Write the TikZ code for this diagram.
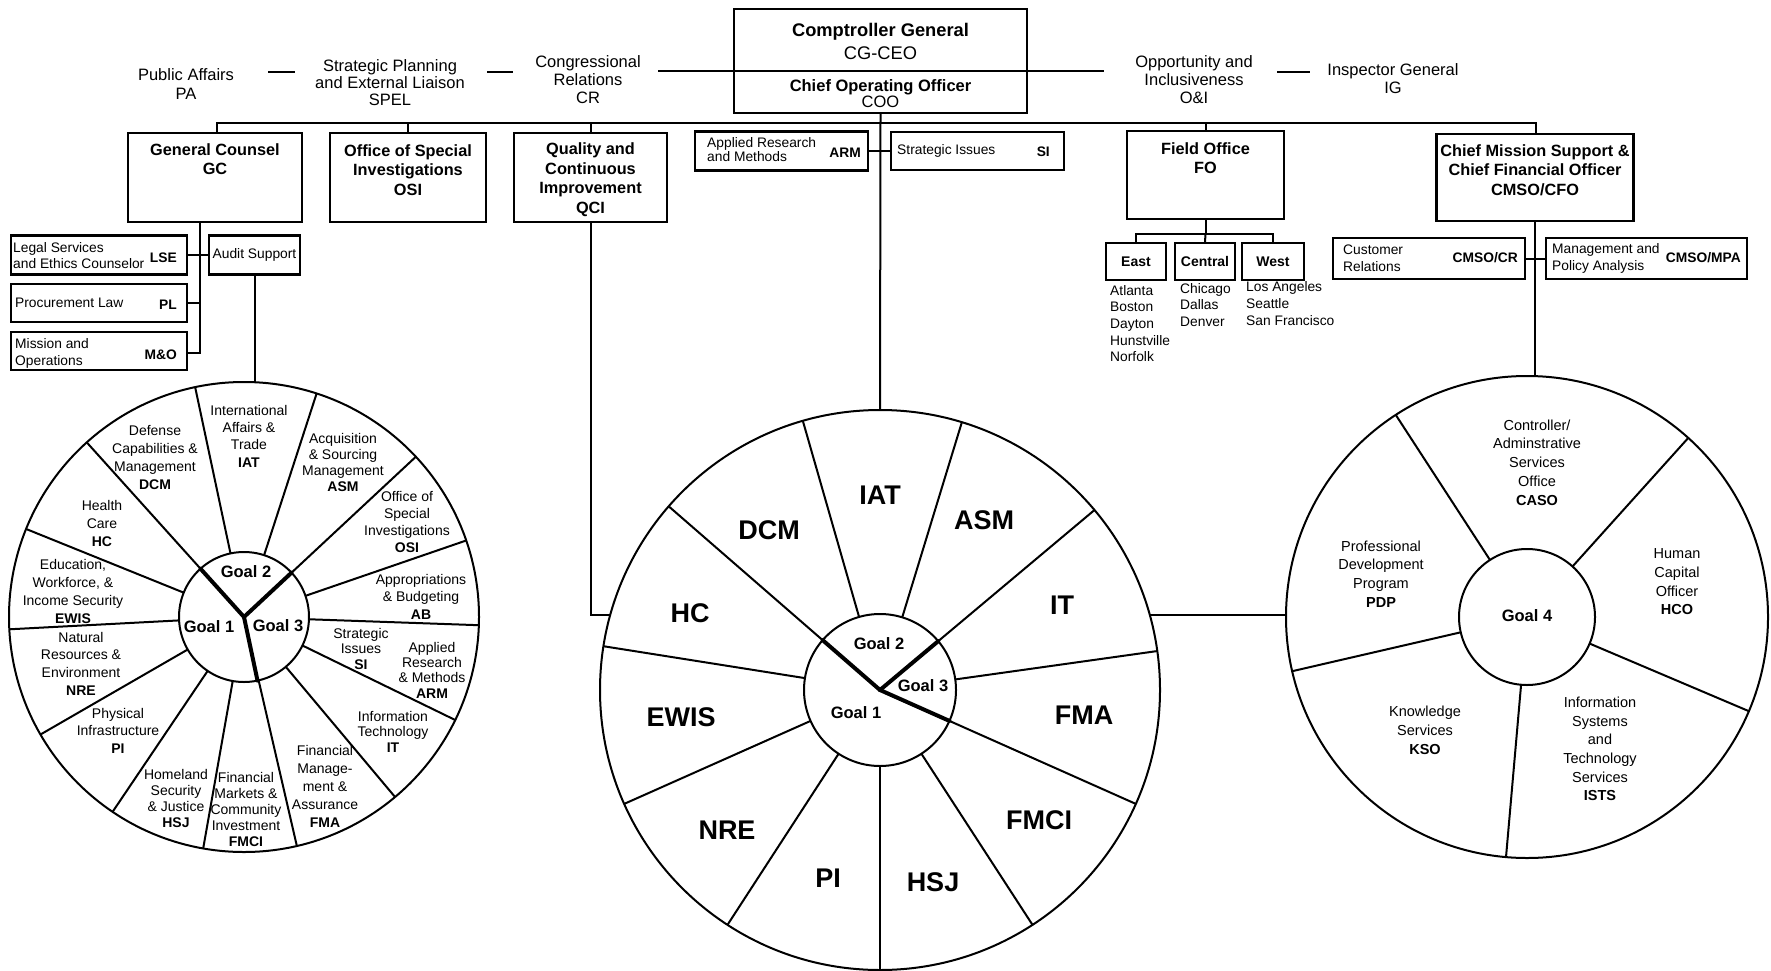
\documentclass[tikz,border=0pt]{standalone}
\usepackage{fontspec}
\setmainfont{Liberation Sans}
\usetikzlibrary{calc}
\begin{document}
\begin{tikzpicture}[x=1pt,y=-1pt,
  ln/.style={line width=2pt},
  goalline/.style={line width=4pt, line cap=round},
  box/.style={draw, line width=2.2pt, inner sep=0pt},
  wheel/.style={circle, draw, line width=2pt, inner sep=0pt, outer sep=0pt},
  toptxt/.style={align=center, inner sep=0pt, font={\fontsize{16.5}{#1}\selectfont}},
  toptxt/.default=18,
  ttl/.style={align=center, inner sep=0pt, font={\bfseries\fontsize{16.3}{19.5}\selectfont}},
  smt/.style={align=left, inner sep=0pt, font={\fontsize{13.8}{#1}\selectfont}},
  smt/.default=15.5,
  smb/.style={inner sep=0pt, font={\bfseries\fontsize{13.8}{15.5}\selectfont}},
  wl/.style={align=center, inner sep=0pt, font={\fontsize{14}{#1}\selectfont}},
  wl/.default=16.5,
  wr/.style={align=center, inner sep=0pt, font={\fontsize{14.5}{18.7}\selectfont}},
  big/.style={inner sep=0pt, font={\bfseries\fontsize{27}{30}\selectfont}},
  goal/.style={inner sep=0pt, font={\bfseries\fontsize{16.5}{18}\selectfont}},
]
\fill[white] (0,0) rectangle (1771,971);
\useasboundingbox (0,0) rectangle (1771,971);

% ---------- top row ----------
\node[toptxt=19] (pa) at (186,84) {Public Affairs\\PA};
\node[toptxt=17] (spel) at (390,83) {Strategic Planning\\and External Liaison\\SPEL};
\node[toptxt] (cr) at (588,80) {Congressional\\Relations\\CR};
\node[toptxt] (oi) at (1194,80) {Opportunity and\\Inclusiveness\\O\&I};
\node[toptxt] (ig) at (1393,79) {Inspector General\\IG};

\coordinate (d1a) at (268,72); \coordinate (d1b) at (295,72);
\coordinate (d2a) at (487,72); \coordinate (d2b) at (513,72);
\coordinate (d3a) at (1277,72); \coordinate (d3b) at (1310,72);
\coordinate (hl) at (658,71); \coordinate (hr) at (1104,71);

\node[box, minimum width=293, minimum height=104] (cg) at (880.5,61) {};
\draw[ln] (d1a) -- (d1b);
\draw[ln] (d2a) -- (d2b);
\draw[ln] (d3a) -- (d3b);
\draw[ln] (hl) -- (hr);
\node[align=center, inner sep=0pt, font={\fontsize{18.3}{23}\selectfont}] (cgt) at (880.5,41.5) {\textbf{Comptroller General}\\CG-CEO};
\node[align=center, inner sep=0pt, font={\fontsize{16.5}{16}\selectfont}] (coot) at (880.5,94) {\textbf{Chief Operating Officer}\\COO};

% ---------- second row boxes ----------
\node[box, minimum width=174, minimum height=89] (gc) at (215,177.5) {};
\node[ttl] (gct) at (215,159) {General Counsel\\GC};
\node[box, minimum width=156, minimum height=89] (osi) at (408,177.5) {};
\node[ttl] (osit) at (408,170) {Office of Special\\Investigations\\OSI};
\node[box, minimum width=153, minimum height=89] (qci) at (590.5,177.5) {};
\node[ttl] (qcit) at (590.5,179.5) {Quality and\\Continuous\\Improvement\\QCI};
\node[box, minimum width=173, minimum height=39] (arm) at (781.5,151) {};
\node[smt=14, anchor=west] (armt) at (707,150) {Applied Research\\and Methods};
\node[smb, anchor=east] (armab) at (861,153) {ARM};
\node[box, minimum width=173, minimum height=38] (si) at (977.5,151) {};
\node[smt, anchor=west] (sit) at (897,151) {Strategic Issues};
\node[smb, anchor=east] (siab) at (1050,152) {SI};
\node[box, minimum width=157, minimum height=88] (fo) at (1205.5,175) {};
\node[ttl] (fot) at (1205.5,158) {Field Office\\FO};
\node[box, minimum width=197, minimum height=87] (cmso) at (1535,177.5) {};
\node[ttl] (cmsot) at (1535,170) {Chief Mission Support \&\\Chief Financial Officer\\CMSO/CFO};

% branch line
\draw[ln] ([xshift=2pt]gc.north) |- (cg.south |- 0,123) -| ([xshift=1pt]cmso.north);
\draw[ln] (osi.north) -- (osi.north |- 0,123);
\draw[ln] (qci.north) -- (qci.north |- 0,123);
\draw[ln] (fo.north) -- (fo.north |- 0,123);
\draw[ln] (arm.east) -- (si.west);

% ---------- General Counsel group ----------
\node[box, minimum width=176, minimum height=39] (lse) at (99,255) {};
\node[smt=16, anchor=west] (lset) at (13,256) {Legal Services\\and Ethics Counselor};
\node[smb, anchor=east] (lseab) at (177,258) {LSE};
\node[box, minimum width=176, minimum height=38] (pl) at (99,303) {};
\node[smt, anchor=west] (plt) at (15,303) {Procurement Law};
\node[smb, anchor=east] (plab) at (177,305) {PL};
\node[box, minimum width=176, minimum height=38] (mo) at (99,351) {};
\node[smt=17, anchor=west] (mot) at (15,353.5) {Mission and\\Operations};
\node[smb, anchor=east] (moab) at (177,355) {M\&O};
\node[box, minimum width=91, minimum height=39, font={\fontsize{13.8}{15.5}\selectfont}] (aud) at (254.5,255) {Audit Support};
\draw[ln] ([xshift=-15pt]gc.south) coordinate (gcv) |- ([yshift=-2pt]mo.east);
\draw[ln] (pl.east) -- (pl.east -| gcv);
\draw[ln] (lse.east) -- (aud.west);

% ---------- Field Office group ----------
\node[box, minimum width=60, minimum height=37, font={\bfseries\fontsize{14}{16}\selectfont}] (feast) at (1136,261.5) {East};
\node[box, minimum width=60, minimum height=37, font={\bfseries\fontsize{14}{16}\selectfont}] (fcen) at (1205,261.5) {Central};
\node[box, minimum width=62, minimum height=37, font={\bfseries\fontsize{14}{16}\selectfont}] (fwest) at (1273,261.5) {West};
\draw[ln] (fo.south) -- ++(0,14) coordinate (foj);
\draw[ln] (feast.north) |- (foj) -| (fwest.north);
\draw[ln] (foj) -- (fcen.north);
\node[smt=16.7, anchor=west] (ceast) at (1110,323.5) {Atlanta\\Boston\\Dayton\\Hunstville\\Norfolk};
\node[smt=16.7, anchor=west] (ccen) at (1180,305) {Chicago\\Dallas\\Denver};
\node[smt=16.7, anchor=west] (cwest) at (1246,303.5) {Los Angeles\\Seattle\\San Francisco};

% ---------- CMSO group ----------
\node[box, minimum width=192, minimum height=41] (ccr) at (1429,258.5) {};
\node[smt=17, anchor=west] (ccrt) at (1343,258.5) {Customer\\Relations};
\node[smb, anchor=east] (ccrab) at (1518,258) {CMSO/CR};
\node[box, minimum width=201, minimum height=41] (mpa) at (1646.5,258.5) {};
\node[smt=17, anchor=west] (mpat) at (1552,258.5) {Management and\\Policy Analysis};
\node[smb, anchor=east] (mpaab) at (1741,258) {CMSO/MPA};
\draw[ln] (ccr.east) -- (mpa.west);

% ---------- wheels ----------
\node[wheel, minimum size=470pt] (lw) at (244,617) {};
\node[wheel, minimum size=130pt] (lwi) at (244,617) {};
\foreach \a in {102.8,72.8,43.7,19.1,-2.5,-26.3,-50,-77.8,-100.8,-124.7,-150.8,183,158.8,132.7}
  \draw[ln] (lwi.\a) -- (lw.\a);
\foreach \a in {132.7,43.7,-78}
  \draw[goalline] (lw.center) -- (lwi.\a);

\node[wheel, minimum size=560pt] (mw) at (880,690) {};
\node[wheel, minimum size=152pt] (mwi) at (880,690) {};
\foreach \a in {-90,-57.27,-24.55,8.18,40.91,73.64,106.36,139.09,171.82,204.55,237.27}
  \draw[ln] (mwi.\a) -- (mw.\a);
\foreach \a in {139.09,40.91,-24.55}
  \draw[goalline] (mw.center) -- (mwi.\a);

\node[wheel, minimum size=482pt] (rw) at (1527,617) {};
\node[wheel, minimum size=136pt] (rwi) at (1527,617) {};
\foreach \a in {123.5,48.8,-23.4,-95.2,-167.9}
  \draw[ln] (rwi.\a) -- (rw.\a);

% ---------- wheel connectors ----------
\draw[ln] (cg.south) -- (mw.north);
\draw[ln] (aud.south) -- (aud.south |- lw.north);
\coordinate (mwl) at ($(mw.center)+(164.5:280pt)$);
\coordinate (mwr) at ($(mw.center)+(15.5:280pt)$);
\draw[ln] (qci.south) |- (mwl);
\draw[ln] (mwr) -- (mwr -| rw.west);
\draw[ln] (cmso.south) -- (cmso.south |- rw.north);

% ---------- left wheel labels ----------
\node[wl=17.7] (l-dcm) at (155,457.5) {Defense\\Capabilities \&\\Management\\\textbf{DCM}};
\node[wl=17.3] (l-iat) at (249,436) {International\\Affairs \&\\Trade\\\textbf{IAT}};
\node[wl=15.7] (l-asm) at (343,462.5) {Acquisition\\\& Sourcing\\Management\\\textbf{ASM}};
\node[wl=16.7] (l-osi) at (407,522) {Office of\\Special\\Investigations\\\textbf{OSI}};
\node[wl=17.5] (l-ab) at (421,596.5) {Appropriations\\\& Budgeting\\\textbf{AB}};
\node[wl=15.5] (l-si) at (361,648.5) {Strategic\\Issues\\\textbf{SI}};
\node[wl=15.3] (l-arm) at (432,670) {Applied\\Research\\\& Methods\\\textbf{ARM}};
\node[wl=15.5] (l-it) at (393,731.5) {Information\\Technology\\\textbf{IT}};
\node[wl=18] (l-fma) at (325,786) {Financial\\Manage-\\ment \&\\Assurance\\\textbf{FMA}};
\node[wl=16] (l-fmci) at (246,809) {Financial\\Markets \&\\Community\\Investment\\\textbf{FMCI}};
\node[wl=16] (l-hsj) at (176,798) {Homeland\\Security\\\& Justice\\\textbf{HSJ}};
\node[wl=17.5] (l-pi) at (118,730.5) {Physical\\Infrastructure\\\textbf{PI}};
\node[wl=17.7] (l-nre) at (81,663.5) {Natural\\Resources \&\\Environment\\\textbf{NRE}};
\node[wl=17.7] (l-ewis) at (73,591.5) {Education,\\Workforce, \&\\Income Security\\\textbf{EWIS}};
\node[wl=18] (l-hc) at (102,523) {Health\\Care\\\textbf{HC}};
\node[goal] (l-g2) at (246,572) {Goal 2};
\node[goal] (l-g1) at (209,627) {Goal 1};
\node[goal] (l-g3) at (278,626) {Goal 3};

% ---------- middle wheel labels ----------
\node[big] (m-iat) at (880,495) {IAT};
\node[big] (m-asm) at (984,520) {ASM};
\node[big] (m-dcm) at (769,530) {DCM};
\node[big] (m-it) at (1062,605) {IT};
\node[big] (m-hc) at (690,613) {HC};
\node[big] (m-ewis) at (681,717) {EWIS};
\node[big] (m-fma) at (1084,715) {FMA};
\node[big] (m-fmci) at (1039,820) {FMCI};
\node[big] (m-nre) at (727,830) {NRE};
\node[big] (m-pi) at (828,878) {PI};
\node[big] (m-hsj) at (933,882) {HSJ};
\node[goal] (m-g2) at (879,644) {Goal 2};
\node[goal] (m-g3) at (923,686) {Goal 3};
\node[goal] (m-g1) at (856,713) {Goal 1};

% ---------- right wheel labels ----------
\node[wr] (r-caso) at (1537,462.5) {Controller/\\Adminstrative\\Services\\Office\\\textbf{CASO}};
\node[wr] (r-hco) at (1677,582) {Human\\Capital\\Officer\\\textbf{HCO}};
\node[wr] (r-pdp) at (1381,574) {Professional\\Development\\Program\\\textbf{PDP}};
\node[wr] (r-kso) at (1425,730.5) {Knowledge\\Services\\\textbf{KSO}};
\node[wr] (r-ists) at (1600,749) {Information\\Systems\\and\\Technology\\Services\\\textbf{ISTS}};
\node[goal] (r-g4) at (1527,616) {Goal 4};
\end{tikzpicture}
\end{document}
